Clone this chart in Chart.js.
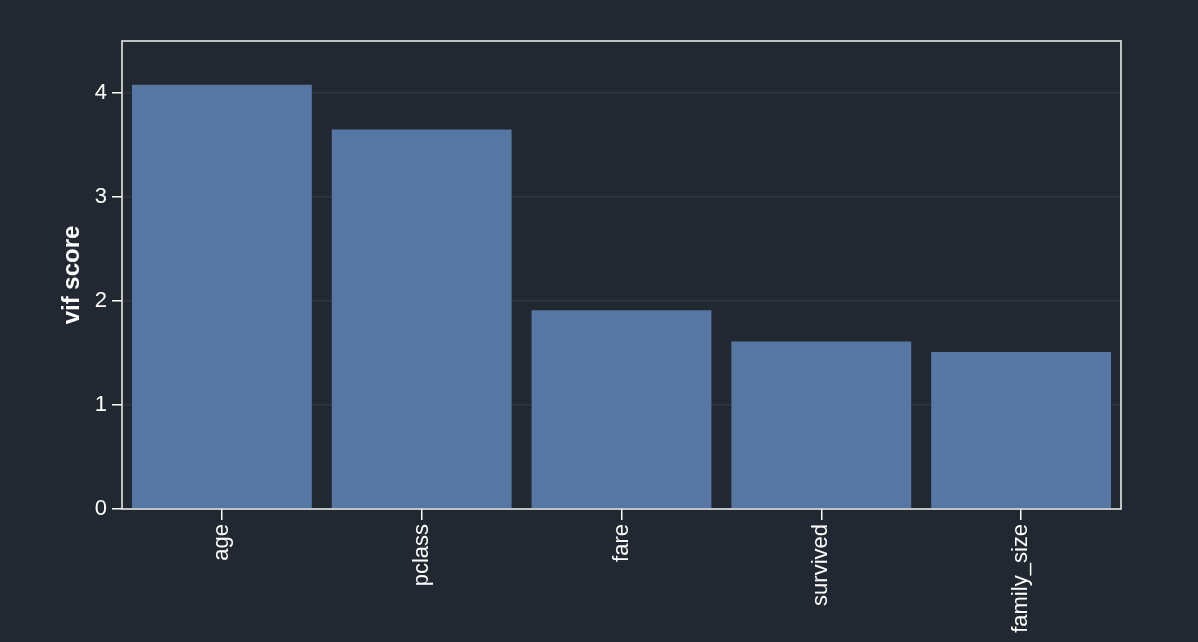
<!DOCTYPE html>
<html>
<head>
<meta charset="utf-8">
<script src="https://cdn.jsdelivr.net/npm/chart.js@4"></script>
<style>
  html, body { margin: 0; padding: 0; background: #222832; }
  #wrap { width: 1198px; height: 642px; }
</style>
</head>
<body>
<div id="wrap"><canvas id="vif-chart"></canvas></div>
<script>
// valores
const features = ['age', 'pclass', 'fare', 'survived', 'family_size'];
const vifScores = [4.08, 3.65, 1.91, 1.61, 1.51];
const yTicks = [0, 1, 2, 3, 4];

// moldura em volta da área do gráfico
const frame = {
    id: 'frame',
    afterDraw(chart) {
        const { ctx, chartArea: a } = chart;
        ctx.save();
        ctx.strokeStyle = '#e8e8e8';
        ctx.lineWidth = 1.6;
        ctx.strokeRect(a.left, a.top, a.right - a.left, a.bottom - a.top);
        ctx.restore();
    }
};

const ctx = document.getElementById('vif-chart').getContext('2d');
const vifChart = new Chart(ctx, {
    type: 'bar',
    data: {
        labels: features,
        datasets: [{
            label: 'vif score',
            data: vifScores,
            backgroundColor: '#5677a4',
            borderWidth: 0,
            barPercentage: 0.9,
            categoryPercentage: 1.0
        }]
    },
    options: {
        responsive: true,
        maintainAspectRatio: false,
        animation: false,
        layout: { padding: { top: 41, right: 77, left: 0, bottom: 0 } },
        plugins: {
            legend: { display: false },
            tooltip: { enabled: false }
        },
        scales: {
            x: {
                afterFit(scale) { scale.height = 133; },
                grid: {
                    offset: false,
                    drawOnChartArea: false,
                    tickLength: 11,
                    tickColor: '#ffffff',
                    lineWidth: 1.5
                },
                border: { display: false },
                ticks: {
                    color: '#ffffff',
                    font: { family: 'Liberation Sans, Arial, sans-serif', size: 22 },
                    minRotation: 90,
                    maxRotation: 90,
                    padding: 4
                }
            },
            y: {
                min: 0,
                max: 4.5,
                afterFit(scale) { scale.width = 122; },
                afterBuildTicks(scale) {
                    scale.ticks = yTicks.map(v => ({ value: v }));
                },
                grid: {
                    color: 'rgba(255,255,255,0.06)',
                    tickColor: '#ffffff',
                    tickLength: 10,
                    lineWidth: 1.5
                },
                border: { display: false },
                ticks: {
                    color: '#ffffff',
                    font: { family: 'Liberation Sans, Arial, sans-serif', size: 22 },
                    padding: 5
                },
                title: {
                    display: true,
                    text: 'vif score',
                    color: '#ffffff',
                    font: { family: 'Liberation Sans, Arial, sans-serif', size: 24, weight: 'bold' },
                    padding: { top: 58, bottom: 0 }
                }
            }
        }
    },
    plugins: [frame]
});
</script>
</body>
</html>
